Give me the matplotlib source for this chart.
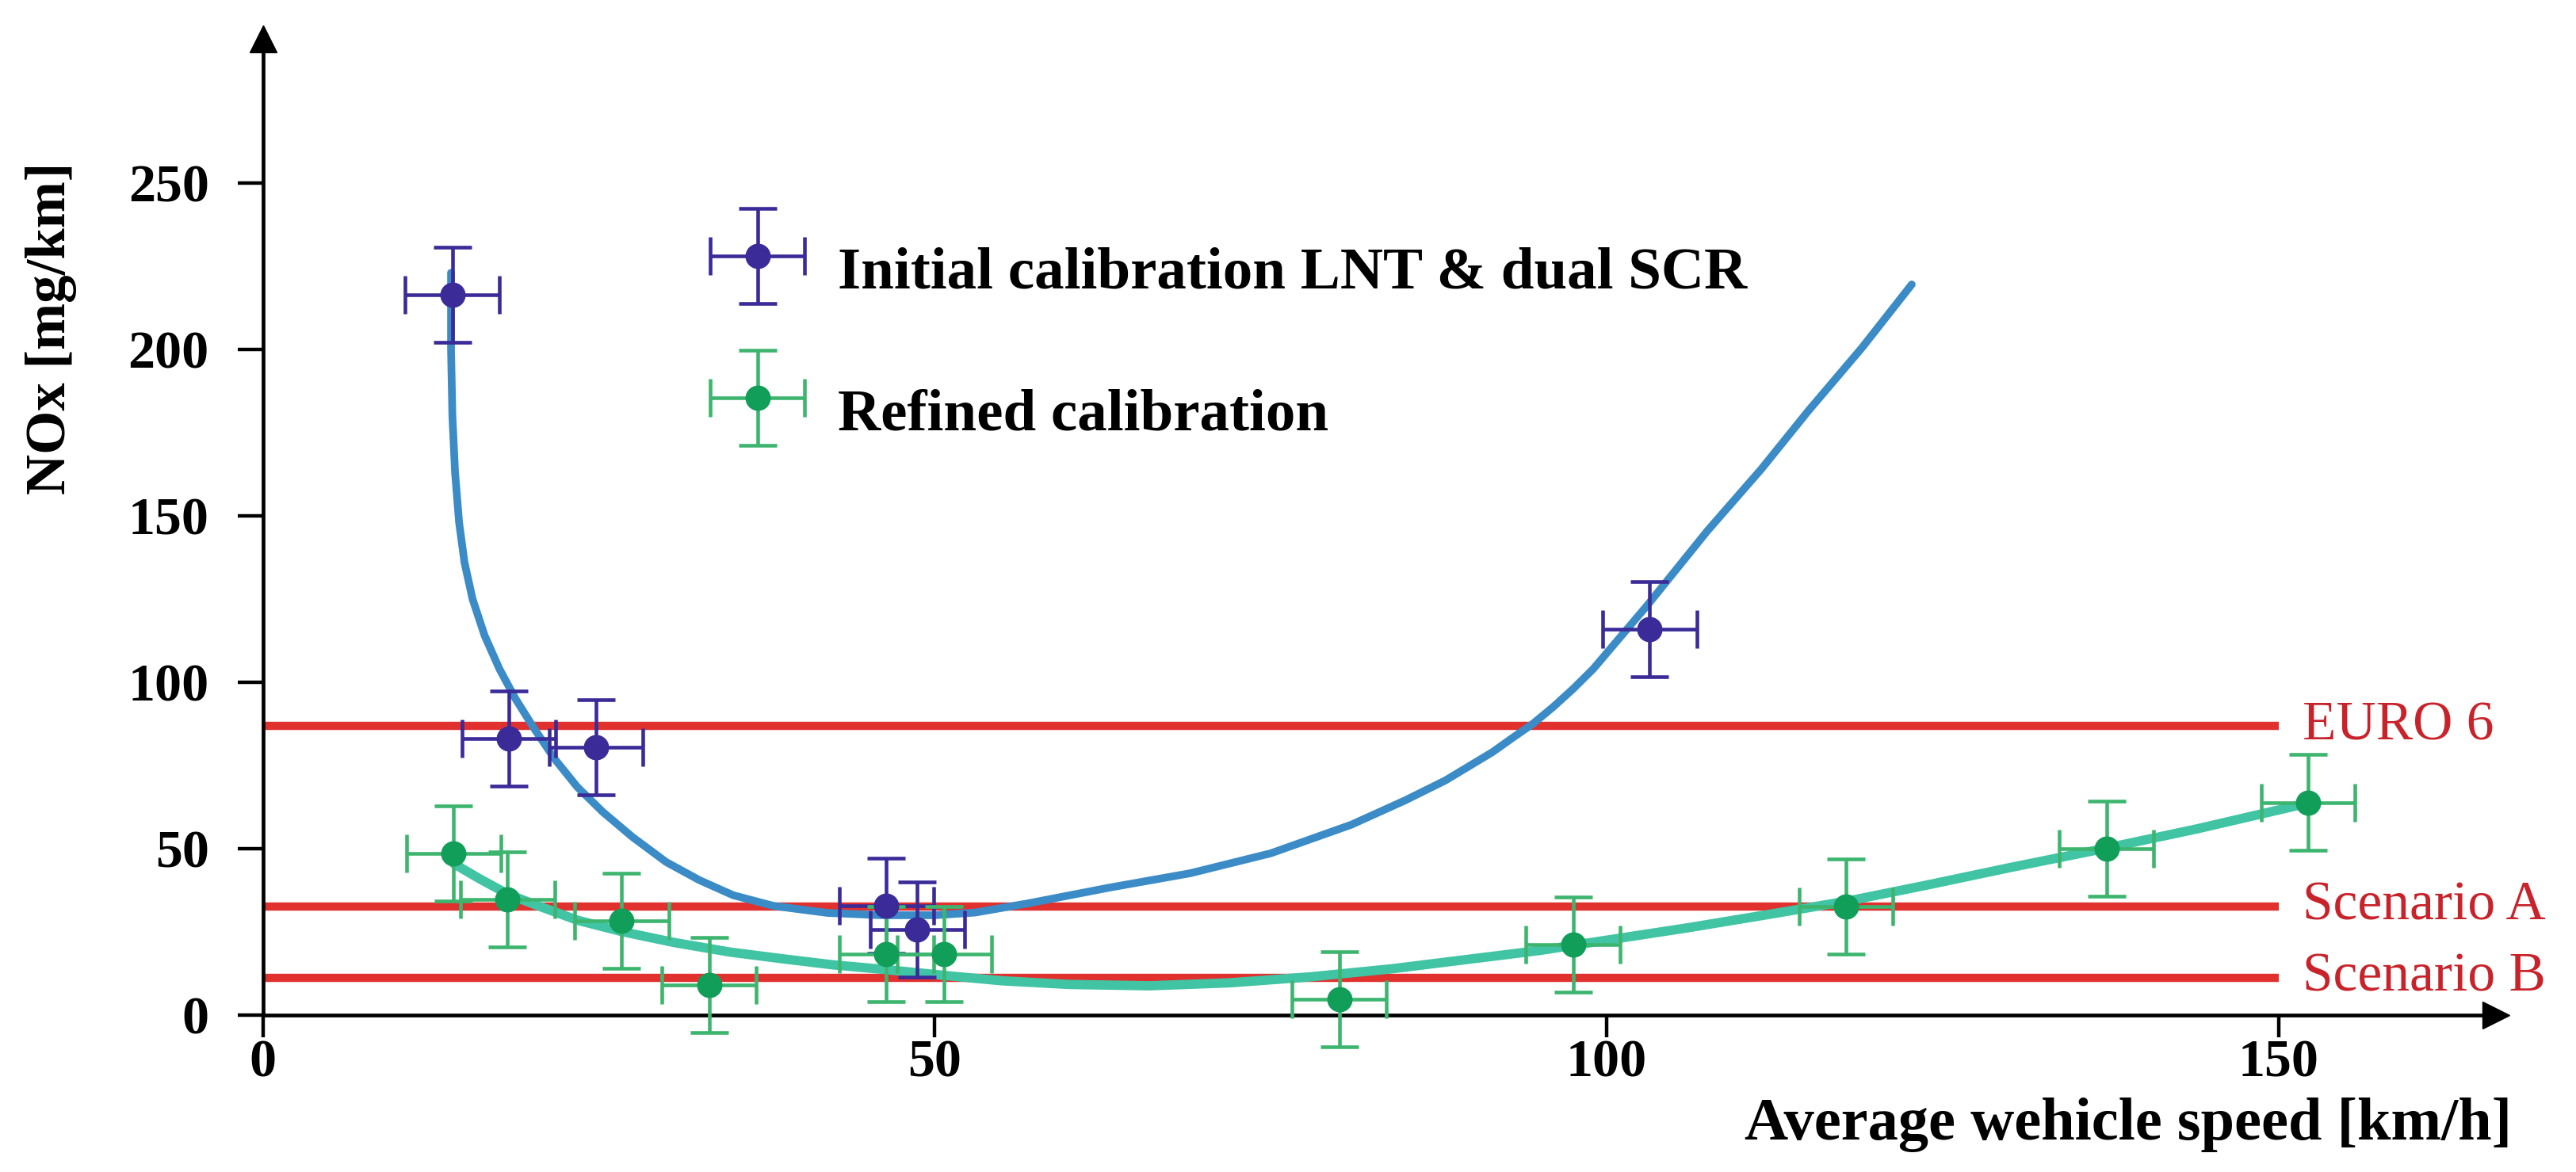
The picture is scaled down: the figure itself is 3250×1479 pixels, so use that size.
import matplotlib
matplotlib.use("Agg")
import matplotlib.pyplot as plt
from matplotlib.legend_handler import HandlerErrorbar
from matplotlib.container import ErrorbarContainer

plt.rcParams["font.family"] = ["Liberation Serif", "DejaVu Serif"]

# measured points (average speed km/h, NOx mg/km)
initial_speed = [14.1, 18.3, 24.8, 46.4, 48.7, 103.2]
initial_nox = [216.3, 83.0, 80.5, 32.9, 25.8, 115.9]
refined_speed = [14.2, 18.2, 26.7, 33.2, 46.4, 50.7, 80.1, 97.5, 117.8, 137.2, 152.2]
refined_nox = [48.5, 34.8, 28.3, 9.1, 18.3, 18.3, 4.7, 21.1, 32.7, 49.9, 63.9]
speed_err = 3.5
nox_err = 14.3

# fitted trend curves
initial_fit_speed = [14.0, 14.0, 14.1, 14.3, 14.6, 15.0, 15.6, 16.5, 17.6, 18.8, 20.2,
                     21.7, 23.4, 25.3, 27.5, 30.0, 32.5, 35.0, 38.0, 42.0, 46.0, 50.0,
                     53.0, 57.0, 63.0, 69.0, 75.0, 81.0, 85.0, 88.0, 91.5, 93.0, 94.5,
                     96.0, 97.5, 99.0, 101.0, 103.0, 107.5, 111.5, 115.0, 119.0, 122.7]
initial_fit_nox = [223, 200, 180, 163, 148, 136, 125, 114, 104, 95, 86,
                   77, 68.5, 61, 53.5, 46, 40.5, 36, 32.8, 30.7, 30.0, 30.0,
                   30.8, 33.6, 38.3, 42.6, 48.6, 57.2, 64.5, 70.5, 79, 83.3, 87.5,
                   92.5, 98, 104, 113.5, 123, 145.5, 164, 181.5, 200.5, 219.5]
refined_fit_speed = [14.2, 16.1, 18.2, 20.3, 23.4, 26.7, 30.6, 34.8, 38.9, 42.4, 46.5,
                     51, 55, 60, 66, 72, 78, 84, 90, 95, 100, 106, 112, 118, 124,
                     130, 137, 144, 152]
refined_fit_nox = [45.5, 41, 36.4, 33.1, 28.5, 25.1, 21.8, 18.9, 16.8, 15.1, 13.6,
                   11.8, 10.3, 9.2, 8.8, 9.7, 11.5, 13.9, 16.9, 19.4, 22.5, 26.2, 30.2,
                   34.3, 39.2, 44.3, 50, 56, 63.5]

limit_names = ["EURO 6", "Scenario A", "Scenario B"]
limit_values = [86.8, 32.6, 11.2]
limit_end = 150

x_ticks = [0, 50, 100, 150]
y_ticks = [0, 50, 100, 150, 200, 250]

red = "#e0312f"
dark_blue = "#3a2b98"
fit_blue = "#3b8bc7"
green_pt = "#119e58"
green_bar = "#3db56f"
fit_green = "#40c4a4"

fig = plt.figure(figsize=(32.5, 14.79), dpi=100)
ax = fig.add_axes([0.10206, 0.1339, 0.8670, 0.8330])
ax.set_xlim(0, 166.2)
ax.set_ylim(0, 293.3)

ax.hlines(limit_values, 0, limit_end, colors=red, lw=7.5, zorder=2)
for name, val in zip(limit_names, limit_values):
    ax.text(151.8, val, name, color="#c8232b", fontsize=50, va="center", ha="left")

ax.plot(initial_fit_speed, initial_fit_nox, color=fit_blue, lw=7, zorder=3,
        solid_capstyle="round", solid_joinstyle="round")
ax.plot(refined_fit_speed, refined_fit_nox, color=fit_green, lw=8.5, zorder=3,
        solid_capstyle="round", solid_joinstyle="round")

eb1 = ax.errorbar(initial_speed, initial_nox, xerr=speed_err, yerr=nox_err, fmt="o",
                  color=dark_blue, ms=22, elinewidth=3.3, capsize=17, capthick=3.3,
                  zorder=4, label="Initial calibration LNT & dual SCR")
eb2 = ax.errorbar(refined_speed, refined_nox, xerr=speed_err, yerr=nox_err, fmt="o",
                  color=green_pt, ecolor=green_bar, ms=22, elinewidth=3.3, capsize=17,
                  capthick=3.3, zorder=4, label="Refined calibration")
for eb in (eb1, eb2):
    for art in eb.get_children():
        art.set_clip_on(False)

ax.legend(handles=[eb1, eb2], loc="upper left", bbox_to_anchor=(0.2015, 0.8097),
          frameon=False, borderpad=0, borderaxespad=0, handlelength=1.5,
          handletextpad=0.6, handleheight=1.92, labelspacing=0.895,
          prop={"family": "Liberation Serif", "weight": "bold", "size": 54},
          handler_map={ErrorbarContainer: HandlerErrorbar(xerr_size=0.793, yerr_size=0.8)})

for side in ("top", "right"):
    ax.spines[side].set_visible(False)
for side in ("left", "bottom"):
    ax.spines[side].set_linewidth(3.4)
ax.plot([0], [1], marker="^", ms=25, color="black", transform=ax.transAxes, clip_on=False)
ax.plot([1], [0], marker=">", ms=25, color="black", transform=ax.transAxes, clip_on=False)

ax.set_xticks(x_ticks)
ax.set_yticks(y_ticks)
ax.tick_params(axis="x", direction="out", length=20, width=3.2, pad=2, labelsize=49)
ax.tick_params(axis="y", direction="out", length=23, width=3.2, pad=26, labelsize=49)
for lab in ax.get_xticklabels() + ax.get_yticklabels():
    lab.set_fontweight("bold")

ax.set_xlabel("Average wehicle speed [km/h]", fontsize=55, fontweight="bold", ha="right")
ax.xaxis.set_label_coords(1.0069, -0.0844)
ax.set_ylabel("NOx [mg/km]", fontsize=51, fontweight="bold")
ax.yaxis.set_label_coords(-0.0833, 0.7037)

fig.savefig("out.png", dpi=100)
